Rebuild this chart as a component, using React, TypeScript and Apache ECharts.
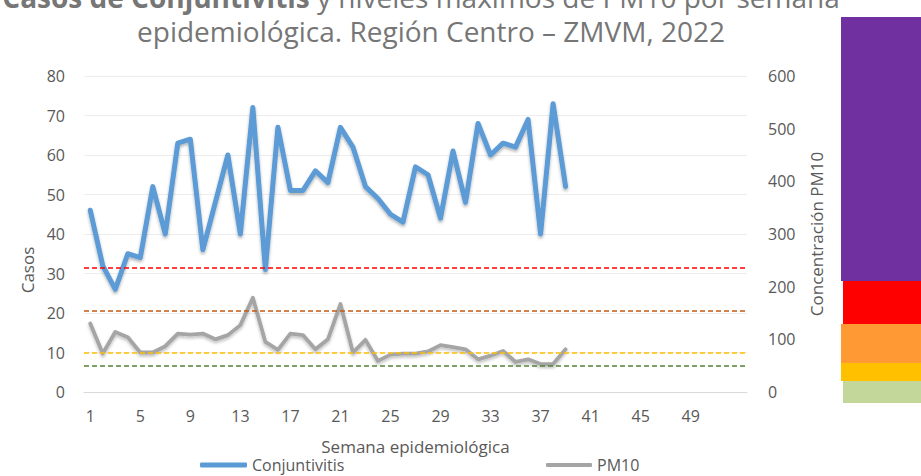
import React, { useEffect, useRef } from "react";
import * as echarts from "echarts";

const weeks: string[] = Array.from({ length: 53 }, (_, i) => String(i + 1));

const conjuntivitis: number[] = [
  46, 32, 26, 35, 34, 52, 40, 63, 64, 36, 48, 60, 40, 72, 31, 67, 51, 51, 56, 53,
  67, 62, 52, 49, 45, 43, 57, 55, 44, 61, 48, 68, 60, 63, 62, 69, 40, 73, 52,
];

const pm10: number[] = [
  130, 73, 114, 104, 75, 75, 87, 111, 109, 111, 100, 108, 127, 179, 95, 80, 111, 108, 81, 100,
  167, 75, 99, 59, 71, 73, 73, 77, 89, 85, 81, 62, 69, 78, 57, 62, 53, 53, 81,
];

const pm10Limits: number[] = [50, 75, 155, 235];
const limitColors: string[] = ["#548235", "#FFC000", "#C55A11", "#FF0000"];

const scaleBands: { from: number; to: number; color: string; x: number }[] = [
  { from: 17, to: 281, color: "#7030A0", x: 841 },
  { from: 281, to: 324, color: "#FF0000", x: 843 },
  { from: 324, to: 363, color: "#FF9933", x: 841 },
  { from: 363, to: 381, color: "#FFC000", x: 841 },
  { from: 381, to: 403, color: "#C4D79B", x: 843 },
];

const FONT = "'Open Sans', sans-serif";
const GREY = "#595959";
const TITLE_GREY = "#767676";

export default function App() {
  const ref = useRef<HTMLDivElement>(null);
  useEffect(() => {
    if (!ref.current) return;
    const chart = echarts.init(ref.current, undefined, { renderer: "svg" });
    chart.setOption({
      animation: false,
      backgroundColor: "#ffffff",
      textStyle: { fontFamily: FONT },
      title: [
        {
          text: "{b|Casos de Conjuntivitis} y niveles máximos de PM10 por semana",
          left: 421,
          textAlign: "center",
          top: -20,
          padding: 0,
          textStyle: {
            fontFamily: FONT,
            fontSize: 28,
            fontWeight: "normal",
            color: TITLE_GREY,
            lineHeight: 34,
            rich: {
              b: { fontFamily: FONT, fontSize: 28, fontWeight: "bold", color: TITLE_GREY, lineHeight: 34 },
            },
          },
        },
        {
          text: "epidemiológica. Región Centro – ZMVM, 2022",
          left: 431,
          textAlign: "center",
          top: 14,
          padding: 0,
          textStyle: {
            fontFamily: FONT,
            fontSize: 28,
            fontWeight: "normal",
            color: TITLE_GREY,
            lineHeight: 34,
          },
        },
      ],
      legend: [
        {
          data: ["Conjuntivitis"],
          left: 200,
          top: 457,
          padding: 0,
          itemWidth: 47,
          itemHeight: 5,
          icon: "roundRect",
          textStyle: { fontFamily: FONT, fontSize: 16, color: GREY, lineHeight: 16 },
        },
        {
          data: ["PM10"],
          left: 546,
          top: 457,
          padding: 0,
          itemWidth: 46,
          itemHeight: 4,
          icon: "roundRect",
          textStyle: { fontFamily: FONT, fontSize: 16, color: GREY, lineHeight: 16 },
        },
      ],
      grid: { left: 84, right: 174, top: 76, bottom: 84, containLabel: false },
      xAxis: {
        type: "category",
        data: weeks,
        boundaryGap: true,
        name: "Semana epidemiológica",
        nameLocation: "middle",
        nameGap: 46,
        nameTextStyle: { fontFamily: FONT, fontSize: 17, color: GREY, lineHeight: 17 },
        axisLine: { lineStyle: { color: "#D9D9D9", width: 1 } },
        axisTick: { show: false },
        axisLabel: {
          interval: (i: number) => i % 4 === 0 && i <= 48,
          margin: 16,
          fontFamily: FONT,
          fontSize: 16,
          color: GREY,
        },
        splitLine: { show: false },
      },
      yAxis: [
        {
          type: "value",
          min: 0,
          max: 80,
          interval: 10,
          name: "Casos",
          nameLocation: "middle",
          nameRotate: 90,
          nameGap: 48,
          nameTextStyle: { fontFamily: FONT, fontSize: 17, color: GREY, padding: [0, 72, 0, 0] },
          axisLine: { show: false },
          axisTick: { show: false },
          axisLabel: { margin: 19, fontFamily: FONT, fontSize: 16, color: GREY },
          splitLine: { lineStyle: { color: "#EDEDED", width: 1 } },
        },
        {
          type: "value",
          min: 0,
          max: 600,
          interval: 100,
          name: "Concentración PM10",
          nameLocation: "middle",
          nameRotate: 90,
          nameGap: 61,
          nameTextStyle: { fontFamily: FONT, fontSize: 17, color: GREY },
          axisLine: { show: false },
          axisTick: { show: false },
          axisLabel: { margin: 21, fontFamily: FONT, fontSize: 16, color: GREY },
          splitLine: { show: false },
        },
      ],
      series: [
        {
          name: "Conjuntivitis",
          type: "line",
          data: conjuntivitis,
          yAxisIndex: 0,
          showSymbol: false,
          symbol: "none",
          color: "#5B9BD5",
          lineStyle: {
            color: "#5B9BD5",
            width: 5,
            cap: "round",
            join: "round",
            shadowColor: "rgba(0,0,0,0.3)",
            shadowBlur: 3,
            shadowOffsetY: 2,
          },
          z: 3,
        },
        {
          name: "PM10",
          type: "line",
          data: pm10,
          yAxisIndex: 1,
          showSymbol: false,
          symbol: "none",
          color: "#A5A5A5",
          lineStyle: {
            color: "#A5A5A5",
            width: 3.8,
            cap: "round",
            join: "round",
            shadowColor: "rgba(0,0,0,0.25)",
            shadowBlur: 3,
            shadowOffsetY: 2,
          },
          markLine: {
            silent: true,
            symbol: ["none", "none"],
            label: { show: false },
            data: pm10Limits.map((v, i) => ({
              yAxis: v,
              lineStyle: { color: limitColors[i], type: [5, 3], width: 1.5 },
            })),
          },
          z: 2,
        },
      ],
      graphic: scaleBands.map((b) => ({
        type: "rect",
        silent: true,
        shape: { x: b.x, y: b.from, width: 921 - b.x, height: b.to - b.from },
        style: { fill: b.color },
      })),
    });
    return () => chart.dispose();
  }, []);
  return (
    <div
      ref={ref}
      style={{ position: "fixed", left: 0, top: 0, width: 921, height: 476 }}
    />
  );
}
